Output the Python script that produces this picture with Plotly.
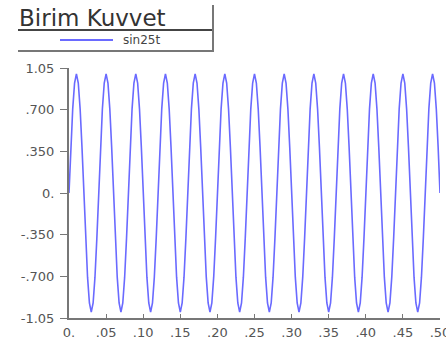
import plotly.graph_objects as go

# ---- data ----
TITLE = "Birim Kuvvet"
SERIES_NAME = "sin25t"
T_START = 0.0
T_STEP = 0.0025
Y_VALUES = [
    0, .383, .707, .924, 1, .924, .707, .383, 0, -.383, -.707, -.924, -1, -.924, -.707, -.383,
    0, .383, .707, .924, 1, .924, .707, .383, 0, -.383, -.707, -.924, -1, -.924, -.707, -.383,
    0, .383, .707, .924, 1, .924, .707, .383, 0, -.383, -.707, -.924, -1, -.924, -.707, -.383,
    0, .383, .707, .924, 1, .924, .707, .383, 0, -.383, -.707, -.924, -1, -.924, -.707, -.383,
    0, .383, .707, .924, 1, .924, .707, .383, 0, -.383, -.707, -.924, -1, -.924, -.707, -.383,
    0, .383, .707, .924, 1, .924, .707, .383, 0, -.383, -.707, -.924, -1, -.924, -.707, -.383,
    0, .383, .707, .924, 1, .924, .707, .383, 0, -.383, -.707, -.924, -1, -.924, -.707, -.383,
    0, .383, .707, .924, 1, .924, .707, .383, 0, -.383, -.707, -.924, -1, -.924, -.707, -.383,
    0, .383, .707, .924, 1, .924, .707, .383, 0, -.383, -.707, -.924, -1, -.924, -.707, -.383,
    0, .383, .707, .924, 1, .924, .707, .383, 0, -.383, -.707, -.924, -1, -.924, -.707, -.383,
    0, .383, .707, .924, 1, .924, .707, .383, 0, -.383, -.707, -.924, -1, -.924, -.707, -.383,
    0, .383, .707, .924, 1, .924, .707, .383, 0, -.383, -.707, -.924, -1, -.924, -.707, -.383,
    0, .383, .707, .924, 1, .924, .707, .383,
    0,
]
X_TICKS = [0, .05, .10, .15, .20, .25, .30, .35, .40, .45, .50]
X_TICK_TEXT = ["0.", ".05", ".10", ".15", ".20", ".25", ".30", ".35", ".40", ".45", ".50"]
Y_TICKS = [-1.05, -0.70, -0.35, 0, 0.35, 0.70, 1.05]
Y_TICK_TEXT = ["-1.05", "-.700", "-.350", "0.", ".350", ".700", "1.05"]

# ---- layout constants (page pixels; body margin removed in the page) ----
W, H = 446, 339
# plot area in page pixels: x 69..440, y 68..318
L, T = 69, 68
R = W - 440
B = H - 318
LINE_COLOR = "#6a6aff"
AXIS_COLOR = "#777777"
TEXT_COLOR = "#555555"
FONT = "DejaVu Sans"


def px(xp):
    """page x pixel -> paper coordinate"""
    return (xp - L) / (W - L - R)


def py(yp):
    """page y pixel -> paper coordinate"""
    return (H - B - yp) / (H - T - B)


fig = go.Figure()
fig.add_trace(go.Scatter(
    x0=T_START, dx=T_STEP, y=Y_VALUES, mode="lines", name=SERIES_NAME,
    line=dict(color=LINE_COLOR, width=1.6), showlegend=False, cliponaxis=False,
))

fig.update_layout(
    width=W, height=H,
    margin=dict(l=L, r=R, t=T, b=B, autoexpand=False),
    plot_bgcolor="white", paper_bgcolor="white",
    font=dict(family=FONT, color=TEXT_COLOR, size=13),
    xaxis=dict(
        range=[0, 0.5], tickvals=X_TICKS, ticktext=X_TICK_TEXT,
        showgrid=False, zeroline=False, showline=True, linecolor=AXIS_COLOR, linewidth=2,
        ticks="inside", ticklen=4, tickcolor=AXIS_COLOR, tickwidth=1,
        tickfont=dict(family=FONT, size=13, color=TEXT_COLOR), ticklabelstandoff=1,
        ticklabeloverflow="allow",
    ),
    yaxis=dict(
        range=[-1.05, 1.05], tickvals=Y_TICKS, ticktext=Y_TICK_TEXT,
        showgrid=False, zeroline=False, showline=True, linecolor=AXIS_COLOR, linewidth=2,
        ticks="outside", ticklen=7, tickcolor=AXIS_COLOR, tickwidth=1,
        tickfont=dict(family=FONT, size=13, color=TEXT_COLOR), ticklabelstandoff=3,
        ticklabeloverflow="allow",
    ),
    shapes=[
        # title underline
        dict(type="line", xref="paper", yref="paper", x0=px(18), x1=px(213), y0=py(30), y1=py(30),
             line=dict(color="#444444", width=2)),
        # legend box bottom and right edges
        dict(type="line", xref="paper", yref="paper", x0=px(18), x1=px(214), y0=py(51), y1=py(51),
             line=dict(color="#777777", width=2)),
        dict(type="line", xref="paper", yref="paper", x0=px(213), x1=px(213), y0=py(5), y1=py(51),
             line=dict(color="#777777", width=2)),
        # legend sample line
        dict(type="line", xref="paper", yref="paper", x0=px(60), x1=px(113), y0=py(40), y1=py(40),
             line=dict(color=LINE_COLOR, width=2)),
    ],
    annotations=[
        dict(text=TITLE, xref="paper", yref="paper", x=px(17), y=py(17.5), xanchor="left", yanchor="middle",
             showarrow=False, font=dict(family=FONT, size=23, color="#333333")),
        dict(text=SERIES_NAME, xref="paper", yref="paper", x=px(121), y=py(40), xanchor="left", yanchor="middle",
             showarrow=False, font=dict(family=FONT, size=12, color="#444444")),
    ],
)

fig.write_html("out.html", config={"displayModeBar": False},
               post_script="document.body.style.margin='0px';")
